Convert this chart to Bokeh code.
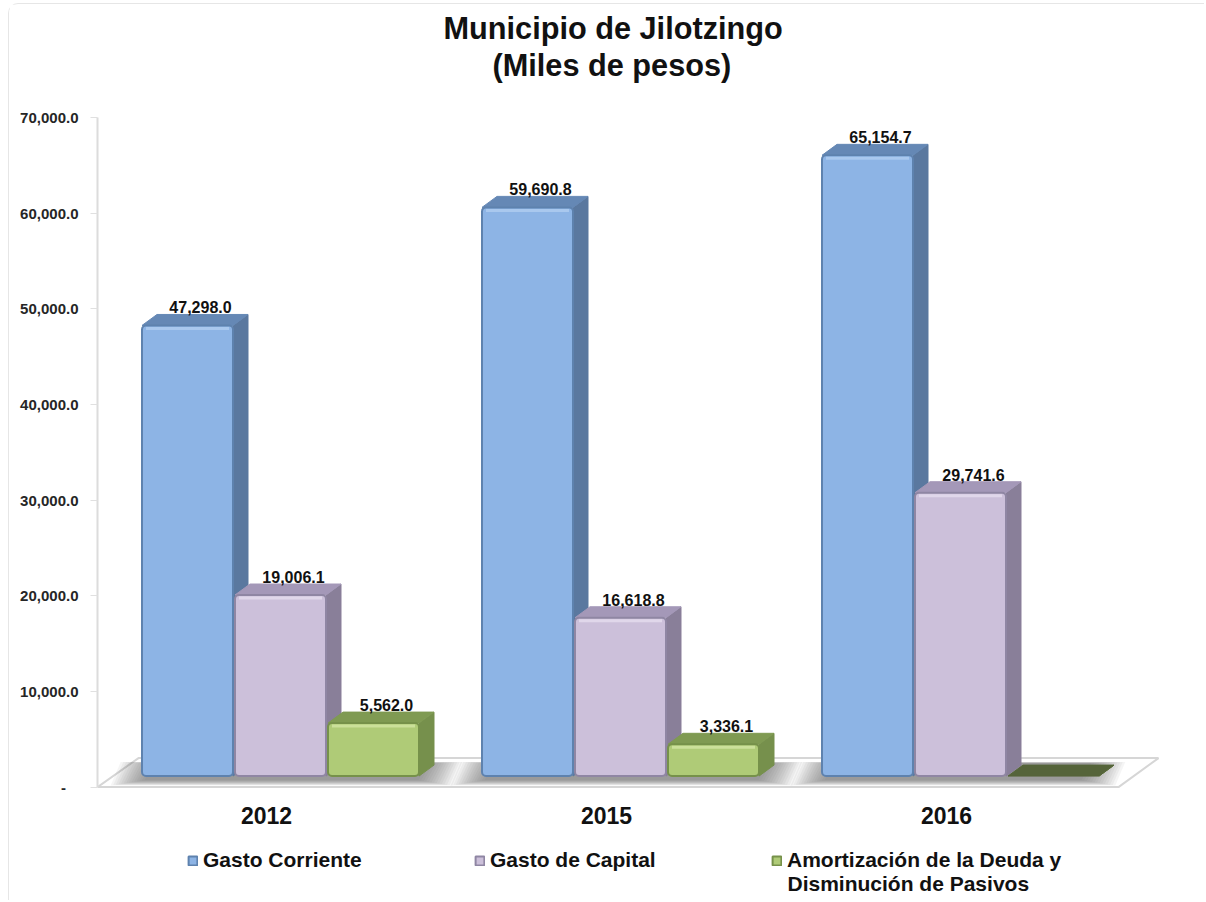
from bokeh.plotting import figure
from bokeh.models import (ColumnDataSource, FixedTicker, NumeralTickFormatter, Legend, LegendItem,
                          Range1d, Title)
from bokeh.core.properties import value
from bokeh.embed import file_html
from bokeh.resources import INLINE

FONT = "Liberation Sans"
title_lines = ["Municipio de Jilotzingo", "(Miles de pesos)"]
years = ["2012", "2015", "2016"]
series_names = ["Gasto Corriente", "Gasto de Capital", "Amortización de la Deuda y"]
series3_line2 = "Disminución de Pasivos"
gasto_corriente = [47298.0, 59690.8, 65154.7]
gasto_capital = [19006.1, 16618.8, 29741.6]
amortizacion = [5562.0, 3336.1, 0.0]
y_ticks = [0, 10000, 20000, 30000, 40000, 50000, 60000, 70000]

front_colors = ["#8DB4E5", "#CCC0DA", "#AFCB77"]
edge_colors = ["#5E82AE", "#8F86A3", "#76914A"]
side_colors = ["#5A789F", "#897F99", "#76904C"]
top_colors = ["#6588B5", "#A498B8", "#7F9A52"]
shine_colors = ["#A9C8EE", "#E0D7EA", "#CBE09A"]
zero_color = "#55643A"

# scale helpers (1 group = 340 px, 70000 = 670 px)
PX_X = 1 / 340
PX_Y = 70000 / 670
BAR_W = 91 * PX_X
SLOT = 93 * PX_X
SHIFT = 14 * PX_X
DX = 15 * PX_X
DY = 11 * PX_Y
BASE = 11 * PX_Y      # front foot of bars over the floor edge
K = 0.996             # perspective shrink of the value scale

p = figure(width=1196, height=897, output_backend="svg", toolbar_location=None,
           x_range=Range1d(-169 * PX_X, -169 * PX_X + 1073 * PX_X),
           y_range=Range1d(-114.5 * PX_Y, 70000 + 35 * PX_Y),
           min_border_left=88, min_border_right=35, min_border_top=78, min_border_bottom=0,
           background_fill_color="white", border_fill_color="white", outline_line_color=None)
p.styles = {"margin-left": "8px", "margin-top": "3px", "border-left": "1.5px solid #e6e6e6",
            "border-top": "1.5px solid #e6e6e6", "border-top-left-radius": "10px"}
p.grid.visible = False

p.title.text = title_lines[0]
p.title.text_font = FONT
p.title.text_font_style = "bold"
p.title.text_font_size = "30.7px"
p.title.text_color = "#111111"
p.title.align = "left"
p.title.offset = 346
p.title.standoff = 0
t2 = Title(text=title_lines[1], text_font=FONT, text_font_style="bold", text_font_size="30.7px",
           text_color="#111111", align="left", offset=395, standoff=0)
p.add_layout(t2, "above")

# floor
fl, fr = -169 * PX_X, 852 * PX_X
bl, br = -128 * PX_X, 892 * PX_X
p.patch([fl, fr, br, bl], [0, 0, 29 * PX_Y, 29 * PX_Y], fill_color="white",
        line_color="#d6d6d6", line_width=2)

# soft shadows on floor
for i in range(3):
    x0 = i - 122 * PX_X
    x1 = i + (152 if i < 2 else 135) * PX_X
    for s in range(14):
        g = (13 - s) * 2.6 * PX_X
        h = (13 - s) * 0.42 * PX_Y
        lo = 7 * PX_Y - h
        hi = 24 * PX_Y + h * 0.2
        p.patch([x0 - g, x1 + g, x1 + 10 * PX_X + g, x0 + 10 * PX_X - g], [lo, lo, hi, hi],
                fill_color="#5a5a5a", fill_alpha=0.06, line_color=None)

all_series = [gasto_corriente, gasto_capital, amortizacion]
legend_rs = []
for si, vals in enumerate(all_series):
    cx = [i + (si - 1) * SLOT + SHIFT for i in range(len(years))]
    lefts = [c - BAR_W / 2 for c in cx]
    rights = [c + BAR_W / 2 for c in cx]
    tops = [BASE + v * K for v in vals]
    side_xs = [[r, r + DX, r + DX, r] for r in rights]
    side_ys = [[BASE, BASE + DY, t + DY, t] for t in tops]
    top_xs = [[l, r, r + DX, l + DX] for l, r in zip(lefts, rights)]
    top_ys = [[t, t, t + DY, t + DY] for t in tops]
    tcol = [top_colors[si] if v > 0 else zero_color for v in vals]
    p.patches(side_xs, side_ys, fill_color=side_colors[si], line_color=side_colors[si], line_width=1)
    p.patches(top_xs, top_ys, fill_color=tcol, line_color=tcol, line_width=1)
    keep = [i for i, v in enumerate(vals) if v > 0]
    src = ColumnDataSource(dict(l=[lefts[i] for i in keep], r=[rights[i] for i in keep],
                                t=[tops[i] for i in keep], b=[BASE] * len(keep)))
    rf = p.quad(left="l", right="r", top="t", bottom="b", source=src, fill_color=front_colors[si],
                line_color=edge_colors[si], line_width=2, border_radius=4)
    legend_rs.append(rf)
    # top shine
    p.segment([lefts[i] + 4 * PX_X for i in keep], [tops[i] - 3 * PX_Y for i in keep],
              [rights[i] - 4 * PX_X for i in keep], [tops[i] - 3 * PX_Y for i in keep],
              line_color=shine_colors[si], line_width=3)
    # value labels
    lab = [f"{vals[i]:,.1f}" for i in keep]
    p.text([cx[i] + 13 * PX_X for i in keep], [tops[i] + DY for i in keep], text=lab,
           text_font=value(FONT), text_font_style="bold", text_font_size="16px", text_color="#111111",
           text_align="center", text_baseline="bottom", y_offset=-1)

# axes
xa = p.xaxis[0]
xa.fixed_location = -10 * PX_Y
xa.ticker = FixedTicker(ticks=[0, 1, 2])
xa.major_label_overrides = {i: y for i, y in enumerate(years)}
xa.major_label_text_font = FONT
xa.major_label_text_font_style = "bold"
xa.major_label_text_font_size = "23px"
xa.major_label_text_color = "#111111"
xa.major_label_standoff = 4
xa.axis_line_color = None
xa.major_tick_line_color = None
xa.minor_tick_line_color = None

ya = p.yaxis[0]
ya.bounds = (0, 70000)
ya.ticker = FixedTicker(ticks=y_ticks)
ya.formatter = NumeralTickFormatter(format="0,0.0")
ya.major_label_overrides = {0: "-\u00a0\u00a0\u00a0"}
ya.major_label_text_font = FONT
ya.major_label_text_font_style = "bold"
ya.major_label_text_font_size = "15px"
ya.major_label_text_color = "#262626"
ya.major_label_standoff = 12
ya.axis_line_color = "#dcdcdc"
ya.axis_line_width = 2
ya.major_tick_line_color = "#e0e0e0"
ya.major_tick_out = 7
ya.major_tick_in = 0
ya.minor_tick_line_color = None

# legends, inside the extended frame under the chart
locs = [(90, 29), (377, 29), (674, 29)]
for si, r in enumerate(legend_rs):
    lg = Legend(items=[LegendItem(label=series_names[si], renderers=[r])], location=locs[si],
                background_fill_alpha=0, border_line_color=None, glyph_width=11, glyph_height=11,
                label_standoff=5, margin=0, padding=0,
                label_text_font=FONT, label_text_font_style="bold", label_text_font_size="21px",
                label_text_color="#111111", label_height=20)
    p.add_layout(lg, "center")
p.text([521 * PX_X], [-96 * PX_Y], text=[series3_line2], text_font=value(FONT), text_font_style="bold",
       text_font_size="21px", text_color="#111111", text_align="left", text_baseline="middle")

html = file_html(p, INLINE)
open("out.html", "w").write(html)
